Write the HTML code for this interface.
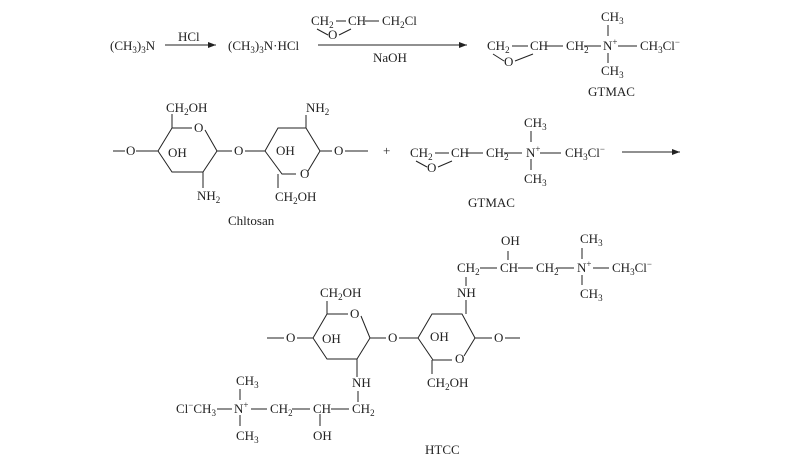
<!DOCTYPE html><html><head><meta charset="utf-8"><style>body{margin:0;background:#fff}svg{display:block}text{font-family:"Liberation Serif",serif;font-size:13px;fill:#222}.s{font-size:9px}</style></head><body>
<svg width="800" height="460" viewBox="0 0 800 460" xmlns="http://www.w3.org/2000/svg" stroke="#222" stroke-width="1" fill="none">
<defs><marker id="a" markerWidth="8" markerHeight="6" refX="8" refY="3" orient="auto"><path d="M0,0L8,3L0,6z" fill="#222" stroke="none"/></marker></defs>
<g stroke="none">
<text x="110" y="50">(CH<tspan class="s" dy="3">3</tspan><tspan dy="-3">)</tspan><tspan class="s" dy="3">3</tspan><tspan dy="-3">N</tspan></text>
<text x="178" y="41">HCl</text>
<text x="228" y="50">(CH<tspan class="s" dy="3">3</tspan><tspan dy="-3">)</tspan><tspan class="s" dy="3">3</tspan><tspan dy="-3">N·HCl</tspan></text>
<text x="311" y="25">CH<tspan class="s" dy="3">2</tspan></text>
<text x="348" y="25">CH</text>
<text x="382" y="25">CH<tspan class="s" dy="3">2</tspan><tspan dy="-3">Cl</tspan></text>
<text x="328" y="39">O</text>
<text x="373" y="62">NaOH</text>
<text x="487" y="50">CH<tspan class="s" dy="3">2</tspan></text>
<text x="530" y="50">CH</text>
<text x="566" y="50">CH<tspan class="s" dy="3">2</tspan></text>
<text x="603" y="50">N<tspan class="s" dy="-5">+</tspan></text>
<text x="640" y="50">CH<tspan class="s" dy="3">3</tspan><tspan dy="-3">Cl</tspan><tspan class="s" dy="-5">−</tspan></text>
<text x="601" y="21">CH<tspan class="s" dy="3">3</tspan></text>
<text x="601" y="75">CH<tspan class="s" dy="3">3</tspan></text>
<text x="504" y="66">O</text>
<text x="588" y="96">GTMAC</text>
</g>
<line x1="165" y1="45" x2="216" y2="45" marker-end="url(#a)"/>
<line x1="318" y1="45" x2="467" y2="45" marker-end="url(#a)"/>
<path d="M336,21H346M365,21H379M317,29L328,35M339,35L351,29"/>
<path d="M512,46H528M546,46H563M584,46H601M618,46H637M608,25V36M608,53V63M493,54L504,61M515,61L533,54"/>
<!-- chitosan -->
<g stroke="none">
<text x="126" y="155">O</text>
<text x="166" y="112">CH<tspan class="s" dy="3">2</tspan><tspan dy="-3">OH</tspan></text>
<text x="194" y="132">O</text>
<text x="168" y="157">OH</text>
<text x="197" y="200">NH<tspan class="s" dy="3">2</tspan></text>
<text x="234" y="155">O</text>
<text x="276" y="155">OH</text>
<text x="306" y="112">NH<tspan class="s" dy="3">2</tspan></text>
<text x="300" y="178">O</text>
<text x="275" y="201">CH<tspan class="s" dy="3">2</tspan><tspan dy="-3">OH</tspan></text>
<text x="334" y="155">O</text>
<text x="383" y="155">+</text>
<text x="228" y="225">Chltosan</text>
<text x="410" y="157">CH<tspan class="s" dy="3">2</tspan></text>
<text x="451" y="157">CH</text>
<text x="486" y="157">CH<tspan class="s" dy="3">2</tspan></text>
<text x="526" y="157">N<tspan class="s" dy="-5">+</tspan></text>
<text x="565" y="157">CH<tspan class="s" dy="3">3</tspan><tspan dy="-3">Cl</tspan><tspan class="s" dy="-5">−</tspan></text>
<text x="524" y="127">CH<tspan class="s" dy="3">3</tspan></text>
<text x="524" y="183">CH<tspan class="s" dy="3">3</tspan></text>
<text x="427" y="172">O</text>
<text x="468" y="207">GTMAC</text>
</g>
<path d="M113,151H125M136,151H158M158,151L172,128V114M172,128H192M205,130L217,151L203,172H172L158,151M217,151H232M245,151H265M265,151L278,128H306L320,151L308,171M296,174H282L265,151M306,128V115M203,172V188M278,174V188M320,151H332M345,151H368"/>
<path d="M435,153H449M466,153H483M504,153H522M540,153H561M531,131V142M531,159V170M416,161L427,167M438,167L452,161"/>
<line x1="622" y1="152" x2="680" y2="152" marker-end="url(#a)"/>
<!-- HTCC -->
<g stroke="none">
<text x="286" y="342">O</text>
<text x="320" y="297">CH<tspan class="s" dy="3">2</tspan><tspan dy="-3">OH</tspan></text>
<text x="350" y="318">O</text>
<text x="322" y="343">OH</text>
<text x="352" y="387">NH</text>
<text x="388" y="342">O</text>
<text x="430" y="341">OH</text>
<text x="455" y="363">O</text>
<text x="427" y="387">CH<tspan class="s" dy="3">2</tspan><tspan dy="-3">OH</tspan></text>
<text x="457" y="297">NH</text>
<text x="457" y="272">CH<tspan class="s" dy="3">2</tspan></text>
<text x="500" y="272">CH</text>
<text x="501" y="245">OH</text>
<text x="536" y="272">CH<tspan class="s" dy="3">2</tspan></text>
<text x="577" y="272">N<tspan class="s" dy="-5">+</tspan></text>
<text x="612" y="272">CH<tspan class="s" dy="3">3</tspan><tspan dy="-3">Cl</tspan><tspan class="s" dy="-5">−</tspan></text>
<text x="580" y="243">CH<tspan class="s" dy="3">3</tspan></text>
<text x="580" y="298">CH<tspan class="s" dy="3">3</tspan></text>
<text x="494" y="342">O</text>
<text x="176" y="413">Cl<tspan class="s" dy="-5">−</tspan><tspan dy="5">CH</tspan><tspan class="s" dy="3">3</tspan></text>
<text x="234" y="413">N<tspan class="s" dy="-5">+</tspan></text>
<text x="270" y="413">CH<tspan class="s" dy="3">2</tspan></text>
<text x="313" y="413">CH</text>
<text x="352" y="413">CH<tspan class="s" dy="3">2</tspan></text>
<text x="236" y="385">CH<tspan class="s" dy="3">3</tspan></text>
<text x="236" y="440">CH<tspan class="s" dy="3">3</tspan></text>
<text x="313" y="440">OH</text>
<text x="425" y="454">HTCC</text>
</g>
<path d="M267,338H284M297,338H313M313,338L327,314V301M327,314H348M361,316L370,338L357,359H327L313,338M370,338H386M399,338H418M418,338L432,314H462L475,338L464,356M452,360H433L418,338M357,359V377M432,360V374M466,300V314M466,277V286M480,268H497M518,268H533M556,268H574M593,268H609M582,248V259M582,275V285M508,251V260M475,338H492M505,338H520M358,391V402M217,409H232M251,409H267M292,409H310M331,409H349M240,389V400M240,415V426M320,414V426"/>
</svg>
</body></html>
